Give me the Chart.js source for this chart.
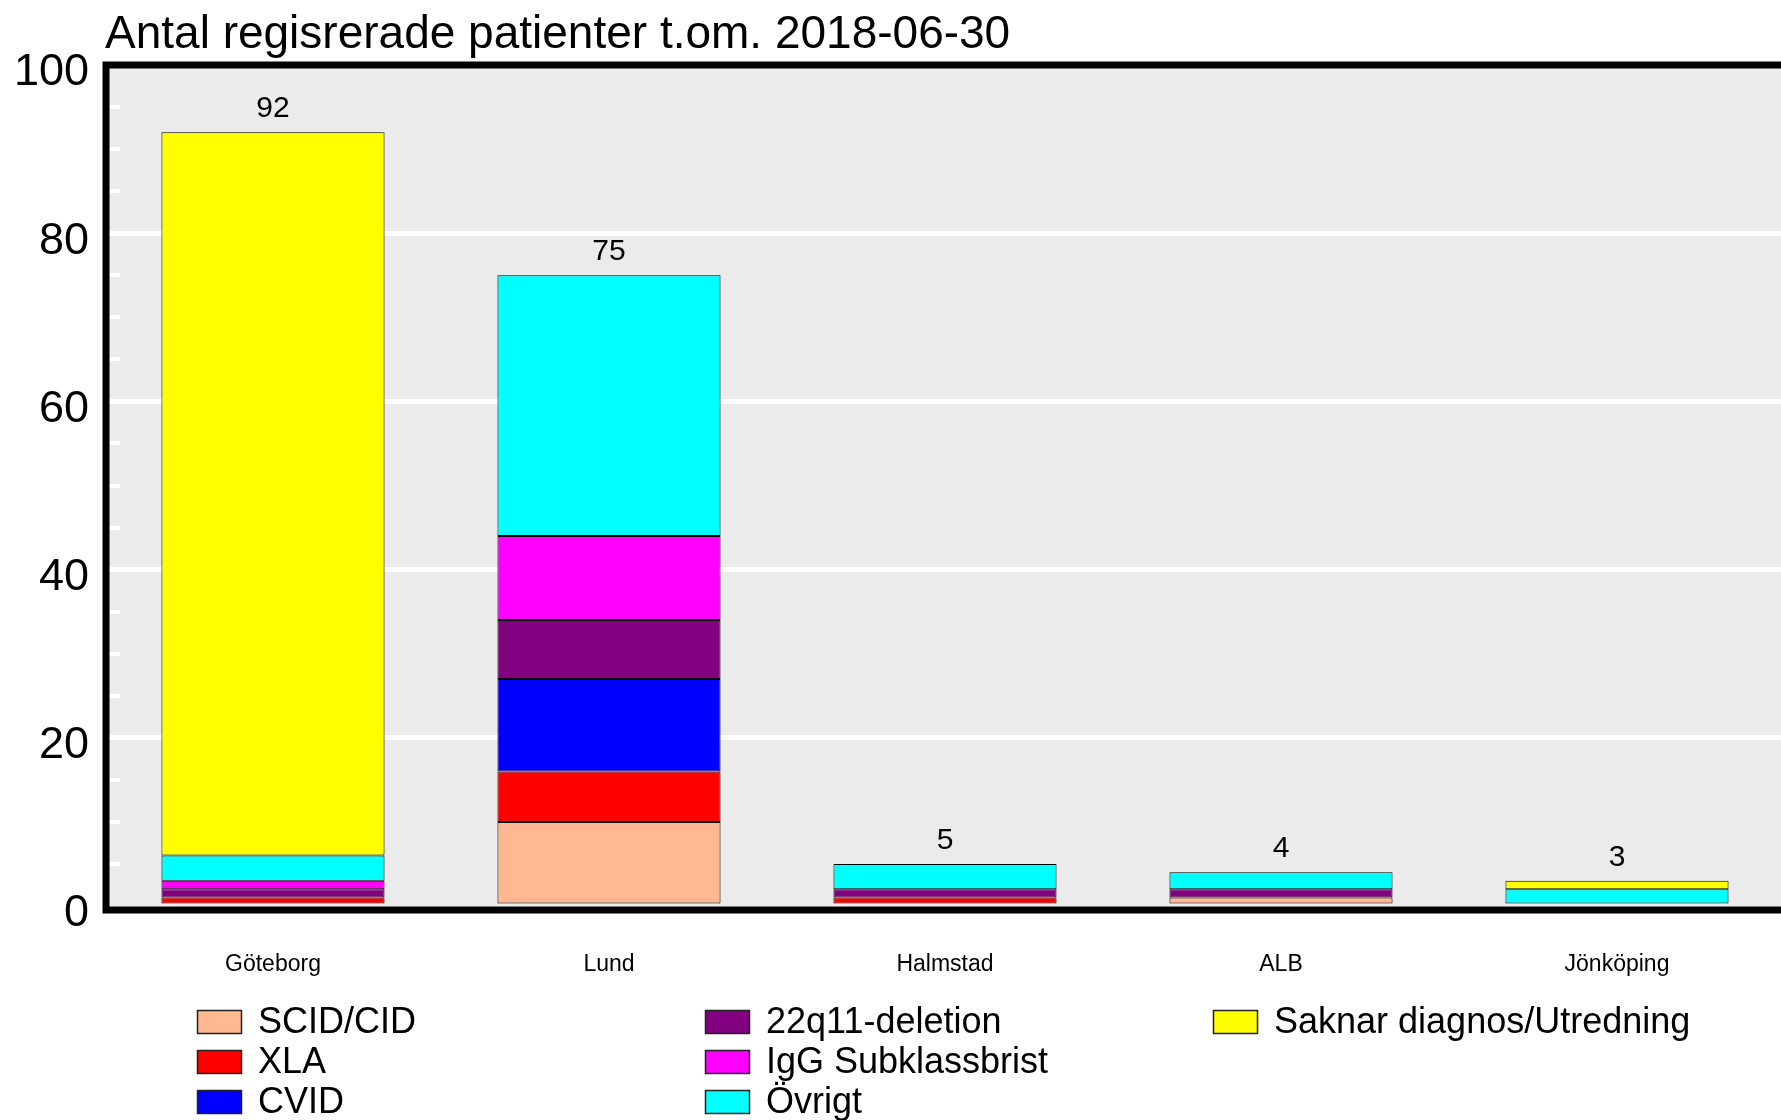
<!DOCTYPE html>
<html>
<head>
<meta charset="utf-8">
<script src="https://cdn.jsdelivr.net/npm/chart.js@4/dist/chart.umd.min.js"></script>
<style>
  html, body { margin: 0; padding: 0; background: #fff; overflow: hidden; }
  #wrap { width: 1790px; height: 1120px; }
</style>
</head>
<body>
<div id="wrap"><canvas id="chart" width="1790" height="1120"></canvas></div>
<script>
// Antal registrerade patienter per center, stacked by diagnosis group
const TITLE = 'Antal regisrerade patienter t.om. 2018-06-30';
const categories = ['Göteborg', 'Lund', 'Halmstad', 'ALB', 'Jönköping'];

const seriesNames = ['SCID/CID', 'XLA', 'CVID', '22q11-deletion', 'IgG Subklassbrist', 'Övrigt', 'Saknar diagnos/Utredning'];
const seriesColors = ['#ffb891', '#ff0000', '#0000ff', '#800080', '#ff00ff', '#00ffff', '#ffff00'];

const scidCid   = [0, 10, 0, 1, 0];
const xla       = [1,  6, 1, 0, 0];
const cvid      = [0, 11, 0, 0, 0];
const q22       = [1,  7, 1, 1, 0];
const iggSub    = [1, 10, 0, 0, 0];
const ovrigt    = [3, 31, 3, 2, 2];
const saknar    = [86, 0, 0, 0, 1];

const yMajorTicks = [0, 20, 40, 60, 80, 100];
const yMinorStep = 5;

const seriesValues = [scidCid, xla, cvid, q22, iggSub, ovrigt, saknar];
const FONT = "'Liberation Sans', Arial, sans-serif";

// plot background
const bgPlugin = {
  id: 'plotBg',
  beforeDraw(chart) {
    const { ctx, chartArea: a } = chart;
    ctx.save();
    ctx.fillStyle = '#ebebeb';
    ctx.fillRect(a.left, a.top, a.right - a.left, a.bottom - a.top);
    ctx.restore();
  },
  beforeDatasetsDraw(chart) {
    // short white minor marks inside the left edge
    const { ctx, chartArea: a, scales: { y } } = chart;
    ctx.save();
    ctx.strokeStyle = '#ffffff';
    ctx.lineWidth = 4;
    for (let v = yMinorStep; v < 100; v += yMinorStep) {
      if (yMajorTicks.includes(v)) continue;
      const py = Math.round(y.getPixelForValue(v));
      ctx.beginPath();
      ctx.moveTo(a.left, py);
      ctx.lineTo(a.left + 15, py);
      ctx.stroke();
    }
    ctx.restore();
  }
};

const overlayPlugin = {
  id: 'overlay',
  afterDraw(chart) {
    const { ctx, chartArea: a, scales: { x, y } } = chart;
    ctx.save();

    // frame: left, top, bottom
    ctx.strokeStyle = '#000';
    ctx.lineWidth = 7;
    ctx.beginPath();
    ctx.moveTo(chart.width, a.top);
    ctx.lineTo(a.left + 1, a.top);
    ctx.lineTo(a.left + 1, a.bottom + 4);
    ctx.lineTo(chart.width, a.bottom + 4);
    ctx.stroke();

    // totals above bars
    ctx.fillStyle = '#000';
    ctx.font = '30px ' + FONT;
    ctx.textAlign = 'center';
    ctx.textBaseline = 'alphabetic';
    categories.forEach((c, i) => {
      const total = seriesValues.reduce((s, arr) => s + arr[i], 0);
      ctx.fillText(String(total), x.getPixelForValue(i), y.getPixelForValue(total) - 15);
    });

    // title
    ctx.textAlign = 'left';
    ctx.font = '46px ' + FONT;
    ctx.fillText(TITLE, 105, 48);

    // legend, column-major, 3 rows
    const colX = [197, 705, 1213];
    const rowY = [1010, 1050, 1090];
    ctx.font = '36px ' + FONT;
    ctx.textBaseline = 'middle';
    chart.data.datasets.forEach((ds, i) => {
      const bx = colX[Math.floor(i / 3)];
      const by = rowY[i % 3];
      ctx.fillStyle = ds.backgroundColor;
      ctx.fillRect(bx, by, 45, 24);
      ctx.strokeStyle = '#222';
      ctx.lineWidth = 1.5;
      ctx.strokeRect(bx + 0.5, by + 0.5, 44, 23);
      ctx.fillStyle = '#000';
      ctx.fillText(ds.label, bx + 61, by + 13);
    });
    ctx.restore();
  }
};

new Chart(document.getElementById('chart'), {
  type: 'bar',
  data: {
    labels: categories,
    datasets: seriesNames.map((name, i) => ({
      label: name,
      data: seriesValues[i],
      backgroundColor: seriesColors[i],
      borderColor: '#000',
      borderWidth: 1,
      borderSkipped: false,
      barPercentage: 0.664,
      categoryPercentage: 1.0
    }))
  },
  options: {
    responsive: false,
    animation: false,
    devicePixelRatio: 1,
    layout: { padding: { top: 65, right: 5, left: 0, bottom: 0 } },
    plugins: {
      legend: { display: false },
      title: { display: false },
      tooltip: { enabled: false }
    },
    scales: {
      x: {
        stacked: true,
        grid: { display: false, drawTicks: false },
        border: { display: false },
        afterFit: s => { s.height = 214; },
        ticks: {
          color: '#000',
          font: { family: FONT, size: 23 },
          padding: 45,
          maxRotation: 0
        }
      },
      y: {
        stacked: true,
        min: 0,
        max: 100,
        afterFit: s => { s.width = 105; },
        border: { display: false },
        grid: {
          drawTicks: false,
          lineWidth: 5,
          color: c => (c.tick && c.tick.value % 20 === 0 && c.tick.value > 0 && c.tick.value < 100) ? '#ffffff' : 'rgba(0,0,0,0)'
        },
        ticks: {
          stepSize: yMinorStep,
          autoSkip: false,
          color: '#000',
          padding: 16,
          labelOffset: 8,
          font: { family: FONT, size: 45 },
          callback: v => yMajorTicks.includes(v) ? String(v) : ''
        }
      }
    }
  },
  plugins: [bgPlugin, overlayPlugin]
});
</script>
</body>
</html>
